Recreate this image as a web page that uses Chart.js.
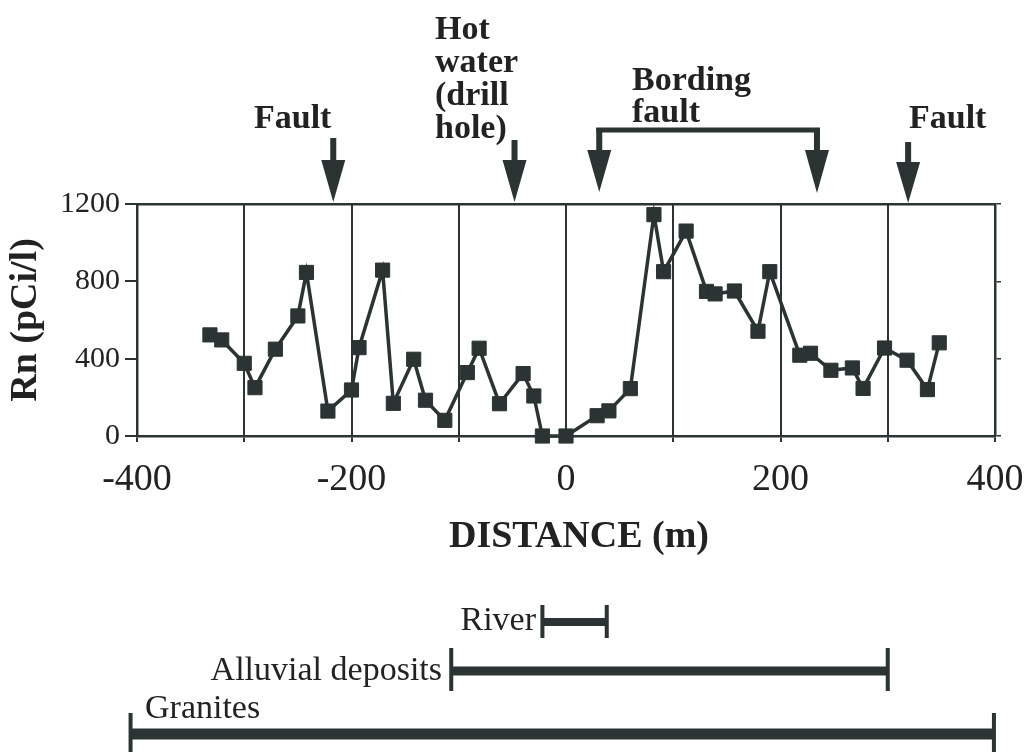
<!DOCTYPE html>
<html>
<head>
<meta charset="utf-8">
<script src="https://cdn.jsdelivr.net/npm/chart.js@4/dist/chart.umd.min.js"></script>
<style>
  html, body { margin: 0; padding: 0; background: #ffffff; }
  canvas { display: block; }
</style>
</head>
<body>
<canvas id="c" width="1031" height="753"></canvas>
<script>
// ---- data ----
const distance = [-332, -321, -300, -290, -271, -250, -242, -222, -200, -193, -171, -161, -142, -131, -113, -92, -81, -62, -40, -30, -22, 0,
                  29, 40, 60, 82, 91, 112, 131, 139, 157, 179, 190, 218, 228, 247, 267, 277, 297, 318, 337, 348];
const radon = [523, 497, 376, 250, 449, 621, 846, 129, 238, 457, 858, 169, 397, 185, 81, 328, 454, 167, 323, 207, 0, 0,
               105, 130, 245, 1145, 850, 1060, 748, 735, 750, 542, 850, 418, 428, 340, 352, 246, 455, 392, 240, 482];
const xLabelValues = [-400, -200, 0, 200, 400];
const yTickValues = [0, 400, 800, 1200];

// annotations (positions along the distance axis, m)
const faultArrows = [-217, 319];
const hotWaterArrow = -48;
const bordingFaultArrows = [31, 234];

// formations along the profile (m)
const formationNames = ['River', 'Alluvial deposits', 'Granites'];
const formationStart = [-22, -107, -406];
const formationEnd = [38, 300, 399];

const INK = '#2b3333';
const TXT = '#222222';
const SERIF = '"Liberation Serif", "Times New Roman", serif';

function arrowDown(ctx, x, yTop, yHead, yTip) {
  ctx.fillRect(x - 3, yTop, 6, yHead - yTop + 1);
  ctx.beginPath();
  ctx.moveTo(x - 12, yHead);
  ctx.lineTo(x + 12, yHead);
  ctx.lineTo(x, yTip);
  ctx.closePath();
  ctx.fill();
}

const overlay = {
  id: 'overlay',
  afterDraw(chart) {
    const ctx = chart.ctx;
    const xs = chart.scales.x;
    ctx.save();
    ctx.fillStyle = INK;
    // arrows
    arrowDown(ctx, xs.getPixelForValue(faultArrows[0]), 138, 160, 202);
    arrowDown(ctx, xs.getPixelForValue(hotWaterArrow), 140, 160, 202);
    arrowDown(ctx, xs.getPixelForValue(faultArrows[1]), 142, 162, 203);
    const bl = xs.getPixelForValue(bordingFaultArrows[0]);
    const br = xs.getPixelForValue(bordingFaultArrows[1]);
    ctx.fillRect(bl - 3, 127.5, br - bl + 6, 5);
    arrowDown(ctx, bl, 128, 150, 192);
    arrowDown(ctx, br, 128, 150, 193);

    // annotation texts
    ctx.fillStyle = TXT;
    ctx.font = 'bold 34px ' + SERIF;
    ctx.textAlign = 'left';
    ctx.textBaseline = 'alphabetic';
    ctx.fillText('Fault', 254, 128);
    ctx.fillText('Fault', 909, 128);
    const hw = ['Hot', 'water', '(drill', 'hole)'];
    hw.forEach((t, i) => ctx.fillText(t, 435, 39 + i * 33));
    ctx.fillText('Bording', 632, 90);
    ctx.fillText('fault', 632, 122);

    // x axis title
    ctx.font = 'bold 38px ' + SERIF;
    ctx.textAlign = 'center';
    ctx.fillText('DISTANCE (m)', 579, 547);

    // formations
    const rows = [
      {y: 622, th: 8, capTop: 605, capBot: 638, labelX: 536, labelY: 630, align: 'right'},
      {y: 671, th: 9, capTop: 648, capBot: 691, labelX: 442, labelY: 680, align: 'right'},
      {y: 734, th: 11, capTop: 713, capBot: 752, labelX: 145, labelY: 718, align: 'left'}
    ];
    ctx.font = '34px ' + SERIF;
    formationNames.forEach((name, i) => {
      const r = rows[i];
      const x0 = xs.getPixelForValue(formationStart[i]);
      const x1 = xs.getPixelForValue(formationEnd[i]);
      ctx.fillStyle = INK;
      ctx.fillRect(x0, r.y - r.th / 2, x1 - x0, r.th);
      ctx.fillRect(x0 - 2, r.capTop, 4, r.capBot - r.capTop);
      ctx.fillRect(x1 - 2, r.capTop, 4, r.capBot - r.capTop);
      ctx.fillStyle = TXT;
      ctx.textAlign = r.align;
      ctx.fillText(name, r.labelX, r.labelY);
    });
    ctx.restore();
  }
};

const points = distance.map((d, i) => ({x: d, y: radon[i]}));

new Chart(document.getElementById('c'), {
  type: 'scatter',
  data: {
    datasets: [{
      data: points,
      showLine: true,
      borderColor: INK,
      borderWidth: 3.5,
      backgroundColor: INK,
      pointStyle: 'rect',
      pointRadius: 10,
      pointBorderWidth: 1,
      pointBorderColor: INK,
      pointBackgroundColor: INK,
      clip: false,
      tension: 0
    }]
  },
  options: {
    responsive: false,
    animation: false,
    events: [],
    layout: { padding: { top: 204, right: 30, bottom: 196, left: 0 } },
    plugins: { legend: { display: false }, tooltip: { enabled: false } },
    scales: {
      x: {
        type: 'linear', position: 'bottom', min: -400, max: 400,
        afterFit(s) { s.height = 121; s.paddingLeft = 0; s.paddingRight = 0; },
        ticks: {
          stepSize: 100, autoSkip: false, maxRotation: 0, padding: 15,
          color: TXT, font: { family: SERIF, size: 38 },
          callback: (v) => xLabelValues.includes(v) ? String(v) : ''
        },
        grid: { display: true, drawOnChartArea: true, drawTicks: true, tickLength: 6, color: INK, lineWidth: 2 },
        border: { display: true, color: INK, width: 2.5 }
      },
      x2: {
        type: 'linear', position: 'top', min: -400, max: 400,
        afterFit(s) { s.height = 0; s.paddingLeft = 0; s.paddingRight = 0; },
        ticks: { display: false },
        grid: { display: false },
        border: { display: true, color: INK, width: 2.5 }
      },
      y: {
        type: 'linear', position: 'left', min: 0, max: 1200,
        afterFit(s) { s.width = 137; },
        afterBuildTicks(s) { s.ticks = yTickValues.map(v => ({value: v})); },
        ticks: { padding: 5, color: TXT, font: { family: SERIF, size: 30 }, callback: (v) => String(v) },
        grid: { display: true, drawOnChartArea: false, drawTicks: true, tickLength: 12, color: INK, lineWidth: 2 },
        border: { display: true, color: INK, width: 2.5 },
        title: { display: true, text: 'Rn (pCi/l)', color: TXT, font: { family: SERIF, size: 38, weight: 'bold' }, padding: { top: 3, bottom: 0 } }
      },
      y2: {
        type: 'linear', position: 'right', min: 0, max: 1200,
        afterFit(s) { s.width = 6; },
        afterBuildTicks(s) { s.ticks = yTickValues.map(v => ({value: v})); },
        ticks: { display: false },
        grid: { display: true, drawOnChartArea: false, drawTicks: true, tickLength: 6, color: INK, lineWidth: 1.5 },
        border: { display: true, color: INK, width: 2.5 }
      }
    }
  },
  plugins: [overlay]
});
</script>
</body>
</html>
